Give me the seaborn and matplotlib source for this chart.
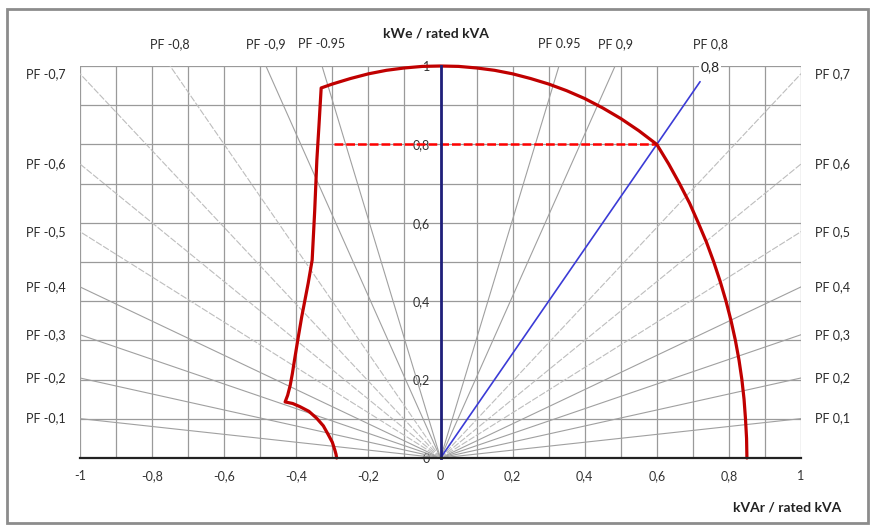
import numpy as np
import pandas as pd
import matplotlib
matplotlib.use("Agg")
import matplotlib.pyplot as plt
from matplotlib.patches import Rectangle
from matplotlib.ticker import MultipleLocator
import seaborn as sns

# capability curve (kVAr, kWe), bottom-left -> bottom-right
curve_q = [-0.288, -0.290, -0.293, -0.300, -0.311, -0.325, -0.343, -0.365, -0.390, -0.410, -0.431,
           -0.424, -0.417, -0.411, -0.405, -0.395, -0.385, -0.367, -0.356, -0.349, -0.343, -0.337, -0.331,
           -0.300, -0.250, -0.200, -0.150, -0.100, -0.050, 0.000,
           0.050, 0.100, 0.150, 0.200, 0.250, 0.300, 0.350, 0.400, 0.450, 0.500, 0.550, 0.600,
           0.633, 0.663, 0.691, 0.715, 0.738, 0.758, 0.776, 0.792, 0.806, 0.818, 0.828, 0.836,
           0.842, 0.846, 0.849, 0.850]
curve_p = [0.000, 0.010, 0.020, 0.040, 0.059, 0.082, 0.101, 0.119, 0.131, 0.139, 0.143,
           0.160, 0.185, 0.215, 0.250, 0.306, 0.360, 0.446, 0.505, 0.630, 0.760, 0.850, 0.944,
           0.954, 0.968, 0.980, 0.989, 0.995, 0.999, 1.000,
           0.999, 0.995, 0.989, 0.980, 0.968, 0.954, 0.937, 0.917, 0.893, 0.866, 0.835, 0.800,
           0.750, 0.700, 0.650, 0.600, 0.550, 0.500, 0.450, 0.400, 0.350, 0.300, 0.250, 0.200,
           0.150, 0.100, 0.050, 0.000]

# rated point PF 0.8
pf_line_q = [0.0, 0.72]
pf_line_p = [0.0, 0.96]
rated_q = [-0.295, 0.60]
rated_p = [0.80, 0.80]

# power factor fan lines
side_pf = [0.1, 0.2, 0.3, 0.4, 0.5, 0.6, 0.7]
left_labels = ["PF -0,1", "PF -0,2", "PF -0,3", "PF -0,4", "PF -0,5", "PF -0,6", "PF -0,7"]
right_labels = ["PF 0,1", "PF 0,2", "PF 0,3", "PF 0,4", "PF 0,5", "PF 0,6", "PF 0,7"]
top_pf = [0.8, 0.9, 0.95]
top_left_labels = ["PF -0,8", "PF -0,9", "PF -0.95"]
top_right_labels = ["PF 0,8", "PF 0,9", "PF 0.95"]
light_pf = [0.5, 0.6, 0.7, 0.8]

x_ticks = [-1, -0.8, -0.6, -0.4, -0.2, 0, 0.2, 0.4, 0.6, 0.8, 1]
x_tick_labels = ["-1", "-0,8", "-0,6", "-0,4", "-0,2", "0", "0,2", "0,4", "0,6", "0,8", "1"]
y_ticks = [0, 0.2, 0.4, 0.6, 0.8, 1]
y_tick_labels = ["0", "0,2", "0,4", "0,6", "0,8", "1"]

sns.set_theme(style="white")
plt.rcParams['font.family'] = ['Lato', 'DejaVu Sans']

fig = plt.figure(figsize=(8.75, 5.27), dpi=100)
ax = fig.add_axes([80 / 875, 69 / 527, 721 / 875, 392 / 527])

# outer chart frame
fig.patches.append(Rectangle((7 / 875, 4 / 527), 861 / 875, 514 / 527, transform=fig.transFigure,
                             fill=False, edgecolor="#8c8c8c", linewidth=2))

ax.set_xlim(-1, 1)
ax.set_ylim(0, 1)
ax.xaxis.set_minor_locator(MultipleLocator(0.1))
ax.yaxis.set_minor_locator(MultipleLocator(0.1))
ax.grid(True, which="both", color="#9a9a9a", linewidth=0.9)
ax.set_axisbelow(True)

# radial PF lines
for pf in side_pf + [0.8, 0.9, 0.95]:
    q = np.sqrt(1 - pf ** 2)
    light = pf in light_pf
    for sign in (-1, 1):
        if sign == 1 and pf == 0.8:
            continue
        ax.plot([0, sign * q * 3], [0, pf * 3], color="#bdbdbd" if light else "#a0a0a0",
                linewidth=0.8, linestyle=(0, (6, 1.5)) if light else "-", zorder=1)

# PF labels at the edges
for pf, lt, rt in zip(side_pf, left_labels, right_labels):
    yy = pf / np.sqrt(1 - pf ** 2)
    ax.text(-1.04, yy, lt, ha="right", va="center", fontsize=9, color="#2b2b2b", clip_on=False)
    ax.text(1.04, yy, rt, ha="left", va="center", fontsize=9, color="#2b2b2b", clip_on=False)
for pf, lt, rt in zip(top_pf, top_left_labels, top_right_labels):
    xx = np.sqrt(1 - pf ** 2) / pf
    ax.text(-xx, 1.056, lt, ha="center", va="center", fontsize=9, color="#2b2b2b", clip_on=False)
    ax.text(xx, 1.056, rt, ha="center", va="center", fontsize=9, color="#2b2b2b", clip_on=False)

df_curve = pd.DataFrame({"q": curve_q, "p": curve_p})
sns.lineplot(data=df_curve, x="q", y="p", sort=False, estimator=None, color="#c00000",
             linewidth=2.3, ax=ax, zorder=4, clip_on=False)
sns.lineplot(x=pf_line_q, y=pf_line_p, sort=False, estimator=None, color="#3b3bd6",
             linewidth=1.2, ax=ax, zorder=3, clip_on=False)
ax.plot(rated_q, rated_p, color="#ff0000", linewidth=1.8, dashes=(3.5, 1.2), zorder=3)
ax.text(0.748, 0.997, "0,8", ha="center", va="center", fontsize=10, color="#222222",
        bbox=dict(facecolor="white", edgecolor="none", pad=1), clip_on=False, zorder=5)

# axes: vertical axis through zero
for s in ("top", "right"):
    ax.spines[s].set_visible(False)
ax.spines["left"].set_position(("data", 0))
ax.spines["left"].set_color("#1f1f7a")
ax.spines["left"].set_linewidth(2.0)
ax.spines["left"].set_zorder(5)
ax.spines["bottom"].set_color("#222222")
ax.spines["bottom"].set_linewidth(1.6)
ax.spines["bottom"].set_zorder(5)

ax.set_xticks(x_ticks)
ax.set_xticklabels(x_tick_labels)
ax.set_yticks(y_ticks)
ax.set_yticklabels(y_tick_labels)
ax.tick_params(which="major", direction="inout", length=5, width=1.2, color="#111111",
               labelsize=9, labelcolor="#333333")
ax.tick_params(axis="x", pad=6)
ax.tick_params(axis="y", pad=5)
ax.tick_params(which="minor", length=0)
ax.set_xlabel("")
ax.set_ylabel("")

fig.text(436 / 875, 1 - 33 / 527, "kWe / rated kVA", ha="center", va="center",
         fontsize=10, fontweight="bold", color="#222222")
fig.text(787 / 875, 1 - 508 / 527, "kVAr / rated kVA", ha="center", va="center",
         fontsize=10, fontweight="bold", color="#222222")

fig.savefig("out.png", dpi=100)
